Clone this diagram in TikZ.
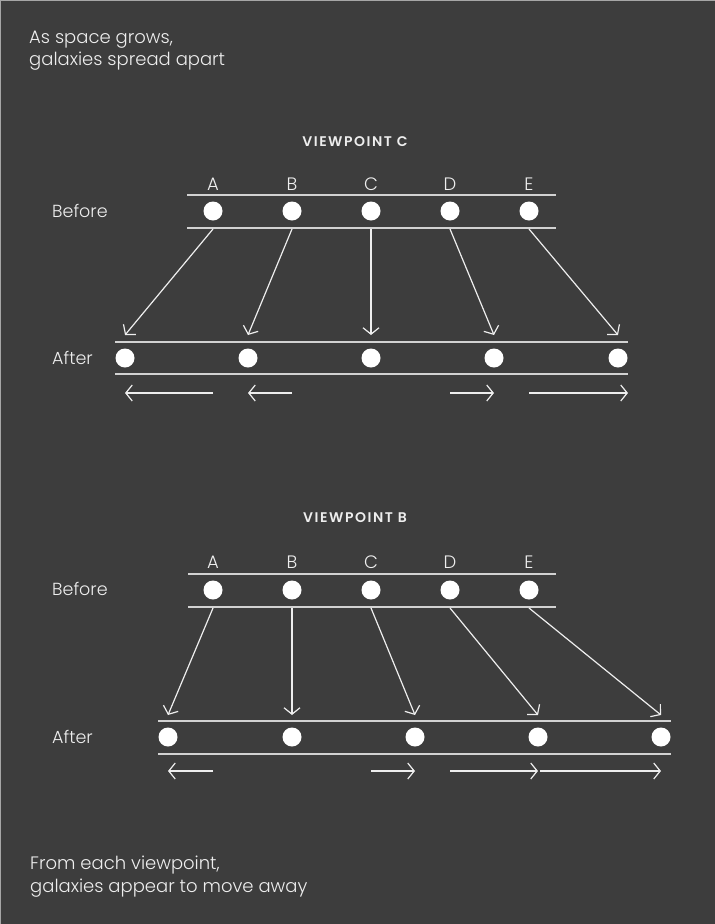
\documentclass[tikz,border=0pt]{standalone}
\usepackage{fontspec}
\setmainfont{Poppins}[UprightFont={* Light}, BoldFont={* SemiBold}]
\usetikzlibrary{arrows.meta}

\definecolor{bgdark}{HTML}{3D3D3D}
\definecolor{inkwhite}{HTML}{EEEEEE}
\definecolor{rulegray}{HTML}{D2D2D2}

\tikzset{
  galaxy/.style={circle, fill=white, inner sep=0pt, minimum size=19pt},
  rowrule/.style={draw=rulegray, line width=1.7pt},
  move/.style={draw=inkwhite, line width=1.2pt, -{Straight Barb[length=6.5pt,width=16pt]}},
  letter/.style={text=inkwhite, font=\fontsize{18}{18}\selectfont, anchor=base, inner sep=0pt},
  rowname/.style={text=inkwhite, font=\fontsize{17.5}{17.5}\selectfont, anchor=base west, inner sep=0pt},
  heading/.style={text=inkwhite, font=\bfseries\fontsize{14}{14}\selectfont\addfontfeatures{LetterSpace=11}, anchor=base, inner sep=0pt},
  caption/.style={text=inkwhite, font=\fontsize{18}{22}\selectfont, anchor=base west, inner sep=0pt},
}

\begin{document}
\begin{tikzpicture}[x=1pt,y=-1pt]
% Background and page edge
\fill[bgdark] (0,0) rectangle (715,924);
\useasboundingbox (0,0) rectangle (715,924);
\draw[gray!70, line width=1.5pt] (0.5,924) -- (0.5,0.5) -- (715,0.5);

% Captions
\node[caption] (capTop1) at (29,43) {As space grows,};
\node[caption] (capTop2) at (29,65) {galaxies spread apart};
\node[caption] (capBot1) at (30,869) {From each viewpoint,};
\node[caption] (capBot2) at (30,892) {galaxies appear to move away};

% ---------------- Viewpoint C ----------------
\node[heading] (headC) at (355,146) {VIEWPOINT C};
\node[rowname] (beforeC) at (52,217) {Before};
\node[rowname] (afterC) at (52,364) {After};

\node[letter] at (213,190) {A};
\node[letter] at (292,190) {B};
\node[letter] at (371,190) {C};
\node[letter] at (450,190) {D};
\node[letter] at (529,190) {E};

\draw[rowrule] (187,195) -- (556,195);
\draw[rowrule] (187,228) -- (556,228);
\draw[rowrule] (115,342) -- (628,342);
\draw[rowrule] (115,374) -- (628,374);

\node[galaxy] (vcA) at (213,211) {};
\node[galaxy] (vcB) at (292,211) {};
\node[galaxy] (vcC) at (371,211) {};
\node[galaxy] (vcD) at (450,211) {};
\node[galaxy] (vcE) at (529,211) {};

\node[galaxy] (vcA2) at (125,358) {};
\node[galaxy] (vcB2) at (248,358) {};
\node[galaxy] (vcC2) at (371,358) {};
\node[galaxy] (vcD2) at (494,358) {};
\node[galaxy] (vcE2) at (618,358) {};

\coordinate (vcOut) at (0,229);
\coordinate (vcIn) at (0,335);
\coordinate (vcShift) at (0,393);

\draw[move] (vcA |- vcOut) -- (vcA2 |- vcIn);
\draw[move] (vcB |- vcOut) -- (vcB2 |- vcIn);
\draw[move] (vcC |- vcOut) -- (vcC2 |- vcIn);
\draw[move] (vcD |- vcOut) -- (vcD2 |- vcIn);
\draw[move] (vcE |- vcOut) -- (vcE2 |- vcIn);

\draw[move] (vcA |- vcShift) -- (vcA2 |- vcShift);
\draw[move] (vcB |- vcShift) -- (vcB2 |- vcShift);
\draw[move] (vcD |- vcShift) -- (vcD2 |- vcShift);
\draw[move] (vcE |- vcShift) -- ([xshift=10pt]vcE2 |- vcShift);

% ---------------- Viewpoint B ----------------
\node[heading] (headB) at (355,522) {VIEWPOINT B};
\node[rowname] (beforeB) at (52,595) {Before};
\node[rowname] (afterB) at (52,743) {After};

\node[letter] at (213,568) {A};
\node[letter] at (292,568) {B};
\node[letter] at (371,568) {C};
\node[letter] at (450,568) {D};
\node[letter] at (529,568) {E};

\draw[rowrule] (188,574) -- (556,574);
\draw[rowrule] (188,607) -- (556,607);
\draw[rowrule] (158,721) -- (671,721);
\draw[rowrule] (158,754) -- (671,754);

\node[galaxy] (vbA) at (213,590) {};
\node[galaxy] (vbB) at (292,590) {};
\node[galaxy] (vbC) at (371,590) {};
\node[galaxy] (vbD) at (450,590) {};
\node[galaxy] (vbE) at (529,590) {};

\node[galaxy] (vbA2) at (168,737) {};
\node[galaxy] (vbB2) at (292,737) {};
\node[galaxy] (vbC2) at (415,737) {};
\node[galaxy] (vbD2) at (538,737) {};
\node[galaxy] (vbE2) at (661,737) {};

\coordinate (vbOut) at (0,608);
\coordinate (vbIn) at (0,715);
\coordinate (vbShift) at (0,771);

\draw[move] (vbA |- vbOut) -- (vbA2 |- vbIn);
\draw[move] (vbB |- vbOut) -- (vbB2 |- vbIn);
\draw[move] (vbC |- vbOut) -- (vbC2 |- vbIn);
\draw[move] (vbD |- vbOut) -- (vbD2 |- vbIn);
\draw[move] (vbE |- vbOut) -- (vbE2 |- vbIn);

\draw[move] (vbA |- vbShift) -- (vbA2 |- vbShift);
\draw[move] (vbC |- vbShift) -- (vbC2 |- vbShift);
\draw[move] (vbD |- vbShift) -- (vbD2 |- vbShift);
\draw[move] ([xshift=2pt]vbD2 |- vbShift) -- (vbE2 |- vbShift);
\end{tikzpicture}
\end{document}
